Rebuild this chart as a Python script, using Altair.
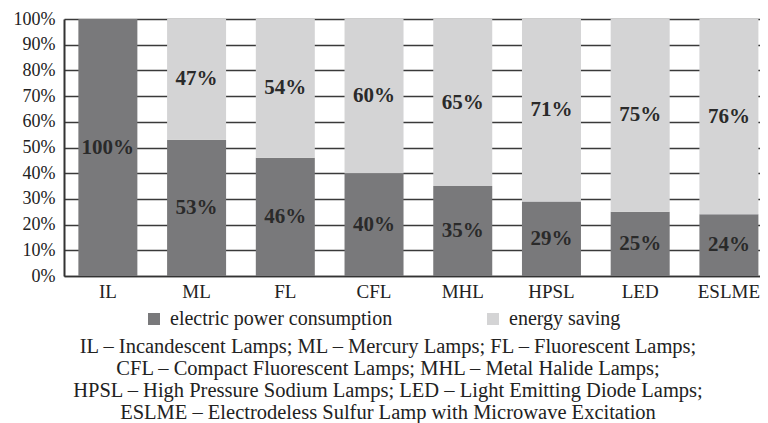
import altair as alt
import pandas as pd

categories = ["IL", "ML", "FL", "CFL", "MHL", "HPSL", "LED", "ESLME"]
consumption = [100, 53, 46, 40, 35, 29, 25, 24]
saving = [0, 47, 54, 60, 65, 71, 75, 76]
series = ["electric power consumption", "energy saving"]
ytick_values = [0, 0.1, 0.2, 0.3, 0.4, 0.5, 0.6, 0.7, 0.8, 0.9, 1.0]
caption = [
    "IL – Incandescent Lamps; ML – Mercury Lamps; FL – Fluorescent Lamps;",
    "CFL – Compact Fluorescent Lamps; MHL – Metal Halide Lamps;",
    "HPSL – High Pressure Sodium Lamps; LED – Light Emitting Diode Lamps;",
    "ESLME – Electrodeless Sulfur Lamp with Microwave Excitation",
]

rows = []
for c, a, b in zip(categories, consumption, saving):
    rows.append({"cat": c, "series": series[0], "value": a / 100, "order": 0,
                 "mid": a / 200, "label": f"{a}%"})
    rows.append({"cat": c, "series": series[1], "value": b / 100, "order": 1,
                 "mid": (a + b / 2) / 100, "label": f"{b}%" if b > 0 else ""})
df = pd.DataFrame(rows)

FONT = "Liberation Serif"

xscale = alt.Scale(paddingInner=0.335, paddingOuter=0.09, align=0.9)
yscale = alt.Scale(domain=[0, 1], nice=False)
xaxis = alt.Axis(labelAngle=0, labelFontSize=19, labelFont=FONT,
                 labelColor="#222", ticks=False, labelPadding=6,
                 domainColor="#333", domainWidth=1.5)
yaxis = alt.Axis(format=".0%", values=ytick_values,
                 labelFontSize=18, labelFont=FONT, labelColor="#222",
                 labelOverlap=False, ticks=False, labelPadding=9, grid=True,
                 gridColor="#3a3a3a", gridWidth=1.4,
                 domainColor="#333", domainWidth=2)

bars = alt.Chart(df).mark_bar(stroke=None).encode(
    x=alt.X("cat:N", sort=categories, title=None, scale=xscale, axis=xaxis),
    y=alt.Y("value:Q", stack="zero", title=None, scale=yscale, axis=yaxis),
    color=alt.Color("series:N", sort=series,
                    scale=alt.Scale(domain=series, range=["#79797b", "#d4d4d5"]),
                    legend=alt.Legend(title=None, orient="none", legendX=80,
                                      legendY=290, direction="horizontal",
                                      symbolType="square", symbolSize=144,
                                      symbolStrokeWidth=0, symbolOpacity=1,
                                      labelFont=FONT, labelFontSize=20,
                                      labelLimit=0,
                                      labelColor="#222", columnPadding=90,
                                      labelOffset=6)),
    order=alt.Order("order:Q"),
)

labels = alt.Chart(df).mark_text(font=FONT, fontSize=21, fontWeight="bold",
                                 color="#2a2a2a", baseline="middle").encode(
    x=alt.X("cat:N", sort=categories, title=None, scale=xscale, axis=xaxis),
    y=alt.Y("mid:Q", title=None, scale=yscale, axis=yaxis),
    text="label:N",
)

chart = alt.layer(bars, labels).properties(
    width=696, height=257,
    autosize=alt.AutoSizeParams(type="none"),
    padding={"left": 56, "top": 11, "right": 0, "bottom": 150},
    title=alt.TitleParams(caption, orient="bottom", anchor="middle",
                          font=FONT, fontSize=20.5, fontWeight="normal",
                          color="#222", lineHeight=22, offset=8, dx=-24),
).configure_view(stroke=None)

chart.save("out.html", embed_options={"renderer": "svg", "actions": False})
